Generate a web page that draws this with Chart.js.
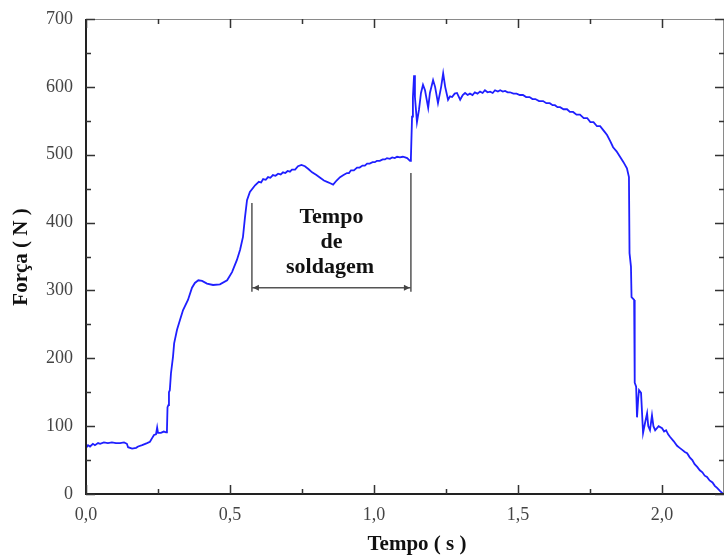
<!DOCTYPE html>
<html lang="pt">
<head>
  <meta charset="UTF-8" />
  <title>Força x Tempo</title>
  <script src="https://cdn.jsdelivr.net/npm/chart.js"></script>
  <style>
    body { margin: 0; background: #fff; }
    #wrap { width: 725px; height: 558px; }
  </style>
</head>
<body>

  <!-- Chart -->
  <div id="wrap"><canvas id="forceChart" width="725" height="558"></canvas></div>

  <script>
    // data (tempo in s, força in N)
    const tempo = [
      0.000, 0.007, 0.014, 0.024, 0.031, 0.042, 0.049, 0.062, 0.076, 0.090,
      0.104, 0.118, 0.132, 0.142, 0.146, 0.160, 0.174, 0.181, 0.195, 0.212,
      0.222, 0.229, 0.236, 0.243, 0.247, 0.250, 0.260, 0.270, 0.278, 0.281,
      0.283, 0.286, 0.288, 0.291, 0.295, 0.302, 0.306, 0.316, 0.326, 0.337,
      0.354, 0.368, 0.378, 0.390, 0.403, 0.420, 0.441, 0.465, 0.490, 0.507,
      0.524, 0.535, 0.545, 0.552, 0.559, 0.569, 0.587, 0.600, 0.608, 0.615,
      0.624, 0.632, 0.640, 0.649, 0.658, 0.667, 0.676, 0.684, 0.692, 0.700,
      0.708, 0.715, 0.726, 0.736, 0.748, 0.760, 0.772, 0.785, 0.800, 0.813,
      0.826, 0.837, 0.848, 0.858, 0.870, 0.882, 0.894, 0.906, 0.913, 0.920,
      0.930, 0.941, 0.950, 0.960, 0.968, 0.976, 0.985, 0.995, 1.003, 1.010,
      1.020, 1.030, 1.038, 1.045, 1.055, 1.063, 1.072, 1.080, 1.090, 1.100,
      1.108, 1.115, 1.125, 1.128, 1.132, 1.135, 1.139, 1.142, 1.149, 1.156,
      1.163, 1.170, 1.177, 1.188, 1.194, 1.205, 1.212, 1.222, 1.233, 1.240,
      1.247, 1.257, 1.264, 1.271, 1.280, 1.288, 1.299, 1.308, 1.316, 1.325,
      1.333, 1.342, 1.350, 1.359, 1.368, 1.377, 1.385, 1.394, 1.403, 1.412,
      1.420, 1.430, 1.438, 1.447, 1.455, 1.464, 1.472, 1.484, 1.495, 1.506,
      1.517, 1.528, 1.540, 1.550, 1.560, 1.573, 1.587, 1.598, 1.610, 1.620,
      1.628, 1.637, 1.646, 1.658, 1.670, 1.680, 1.691, 1.703, 1.715, 1.728,
      1.740, 1.751, 1.762, 1.774, 1.785, 1.800, 1.809, 1.820, 1.830, 1.842,
      1.854, 1.866, 1.878, 1.885, 1.887, 1.892, 1.894, 1.903, 1.905, 1.910,
      1.913, 1.917, 1.920, 1.927, 1.934, 1.941, 1.948, 1.952, 1.958, 1.965,
      1.970, 1.976, 1.988, 2.000, 2.007, 2.014, 2.021, 2.028, 2.040, 2.052,
      2.061, 2.070, 2.079, 2.087, 2.096, 2.105, 2.113, 2.122, 2.131, 2.140,
      2.148, 2.156, 2.165, 2.175, 2.183, 2.191, 2.200, 2.212
    ];
    const forca = [
      68, 72, 70, 74, 72, 75, 74, 76, 75, 76,
      75, 75, 76, 74, 69, 67, 68, 70, 72, 75,
      77, 82, 87, 88, 98, 90, 90, 92, 91, 93,
      128, 131, 150, 153, 178, 202, 222, 242, 256, 271,
      286, 304, 311, 315, 314, 310, 308, 309, 315, 327,
      345, 360, 379, 408, 433, 445, 455, 460, 459, 464,
      463, 467, 466, 470, 469, 472, 471, 474, 473, 476,
      475, 478, 478, 483, 485, 483, 479, 474, 470, 466,
      462, 460, 458, 456, 462, 467, 470, 473, 473, 477,
      477, 481, 481, 484, 484, 487, 487, 489, 489, 491,
      491, 493, 493, 495, 494, 496, 495, 497, 496, 497,
      496, 495, 491, 495, 556, 585, 617, 585, 548, 566,
      591, 603, 595, 569, 591, 610, 600, 576, 600, 620,
      600, 581, 586, 585, 590, 591, 581, 588, 591, 588,
      590, 588, 592, 590, 593, 591, 595, 592, 593, 591,
      595, 593, 595, 593, 594, 592, 592, 590, 590, 588,
      588, 585, 585, 582, 582, 579, 579, 576, 576, 573,
      573, 570, 570, 567, 567, 563, 563, 559, 559, 554,
      554, 548, 548, 542, 542, 534, 529, 520, 511, 505,
      497, 489, 480, 467, 355, 335, 290, 286, 164, 158,
      113, 140, 153, 149, 90, 105, 119, 100, 94, 116,
      100, 94, 100, 97, 92, 94, 88, 84, 78, 71,
      68, 65, 62, 60, 54, 50, 44, 40, 35, 32,
      27, 25, 20, 17, 12, 9, 5, 0
    ];
    const xTicks = [0, 0.5, 1.0, 1.5, 2.0];
    const yTicks = [0, 100, 200, 300, 400, 500, 600, 700];

    // "Tempo de soldagem" bracket, in data units
    const weldStart = 0.576;
    const weldEnd = 1.128;
    const weldLeftTop = 429;
    const weldRightTop = 473;
    const weldBottom = 298;
    const weldArrow = 304;
    const weldLabel = ['Tempo', 'de', 'soldagem'];
    const weldLabelAt = [0.852, 0.852, 0.847];
    const weldLabelLevel = [400, 363, 326];

    Chart.defaults.font.family = "'Liberation Serif', 'Times New Roman', serif";

    const frame = {
      id: 'frame',
      afterDatasetsDraw(chart) {
        const { ctx, chartArea: a, scales: { x, y } } = chart;
        ctx.save();

        // top and right border
        ctx.strokeStyle = '#8a8a8a';
        ctx.lineWidth = 1;
        ctx.beginPath();
        ctx.moveTo(a.left, a.top + 0.5);
        ctx.lineTo(a.right, a.top + 0.5);
        ctx.moveTo(a.right - 0.5, a.top);
        ctx.lineTo(a.right - 0.5, a.bottom);
        ctx.stroke();

        // left and bottom axes
        ctx.strokeStyle = '#222';
        ctx.lineWidth = 2;
        ctx.beginPath();
        ctx.moveTo(a.left, a.top);
        ctx.lineTo(a.left, a.bottom);
        ctx.lineTo(a.right, a.bottom);
        ctx.stroke();

        // inward ticks
        ctx.lineWidth = 1.5;
        ctx.strokeStyle = '#333';
        ctx.beginPath();
        for (let v = 0; v <= 700; v += 50) {
          const py = Math.round(y.getPixelForValue(v)) + 0.5;
          const len = v % 100 === 0 ? 9 : 5;
          ctx.moveTo(a.left, py); ctx.lineTo(a.left + len, py);
          ctx.moveTo(a.right, py); ctx.lineTo(a.right - len, py);
        }
        for (let v = 0; v <= 2.0001; v += 0.25) {
          const px = Math.round(x.getPixelForValue(v)) + 0.5;
          const len = Math.abs(v * 2 - Math.round(v * 2)) < 0.01 ? 9 : 5;
          ctx.moveTo(px, a.bottom); ctx.lineTo(px, a.bottom - len);
          ctx.moveTo(px, a.top); ctx.lineTo(px, a.top + len);
        }
        ctx.stroke();

        // bracket
        const xl = x.getPixelForValue(weldStart);
        const xr = x.getPixelForValue(weldEnd);
        const ya = y.getPixelForValue(weldArrow);
        ctx.strokeStyle = '#555';
        ctx.fillStyle = '#444';
        ctx.lineWidth = 1.5;
        ctx.beginPath();
        ctx.moveTo(xl, y.getPixelForValue(weldLeftTop));
        ctx.lineTo(xl, y.getPixelForValue(weldBottom));
        ctx.moveTo(xr, y.getPixelForValue(weldRightTop));
        ctx.lineTo(xr, y.getPixelForValue(weldBottom));
        ctx.moveTo(xl, ya);
        ctx.lineTo(xr, ya);
        ctx.stroke();
        ctx.beginPath();
        ctx.moveTo(xl + 1, ya); ctx.lineTo(xl + 7, ya - 3); ctx.lineTo(xl + 7, ya + 3); ctx.closePath();
        ctx.moveTo(xr - 1, ya); ctx.lineTo(xr - 7, ya - 3); ctx.lineTo(xr - 7, ya + 3); ctx.closePath();
        ctx.fill();

        ctx.fillStyle = '#111';
        ctx.font = "bold 22px 'Liberation Serif', serif";
        ctx.textAlign = 'center';
        ctx.textBaseline = 'alphabetic';
        weldLabel.forEach((t, i) => {
          ctx.fillText(t, x.getPixelForValue(weldLabelAt[i]), y.getPixelForValue(weldLabelLevel[i]));
        });

        // axis titles
        ctx.font = "bold 21px 'Liberation Serif', serif";
        ctx.textBaseline = 'middle';
        ctx.fillText('Tempo ( s )', 417, 545);
        ctx.translate(22, 257);
        ctx.rotate(-Math.PI / 2);
        ctx.fillText('Força ( N )', 0, 0);
        ctx.restore();
      }
    };

    new Chart(document.getElementById('forceChart'), {
      type: 'line',
      data: {
        datasets: [{
          data: tempo.map((t, i) => ({ x: t, y: forca[i] })),
          borderColor: '#1f1fff',
          borderWidth: 1.8,
          pointRadius: 0,
          tension: 0,
          fill: false
        }]
      },
      options: {
        responsive: false,
        animation: false,
        layout: { padding: { top: 19, right: 1, left: 0, bottom: 0 } },
        plugins: { legend: { display: false }, tooltip: { enabled: false } },
        scales: {
          x: {
            type: 'linear',
            min: 0,
            max: 2.215,
            grid: { display: false, drawTicks: false },
            border: { display: false },
            afterBuildTicks: s => { s.ticks = xTicks.map(v => ({ value: v })); },
            afterFit: s => { s.height = 64; s.paddingLeft = 0; s.paddingRight = 0; },
            ticks: {
              padding: 10,
              color: '#444',
              font: { size: 18 },
              callback: v => v.toFixed(1).replace('.', ',')
            }
          },
          y: {
            min: 0,
            max: 700,
            grid: { display: false, drawTicks: false },
            border: { display: false },
            afterBuildTicks: s => { s.ticks = yTicks.map(v => ({ value: v })); },
            afterFit: s => { s.width = 86; s.paddingTop = 0; s.paddingBottom = 0; },
            ticks: {
              padding: 13,
              color: '#444',
              font: { size: 18 }
            }
          }
        }
      },
      plugins: [frame]
    });
  </script>
</body>
</html>
